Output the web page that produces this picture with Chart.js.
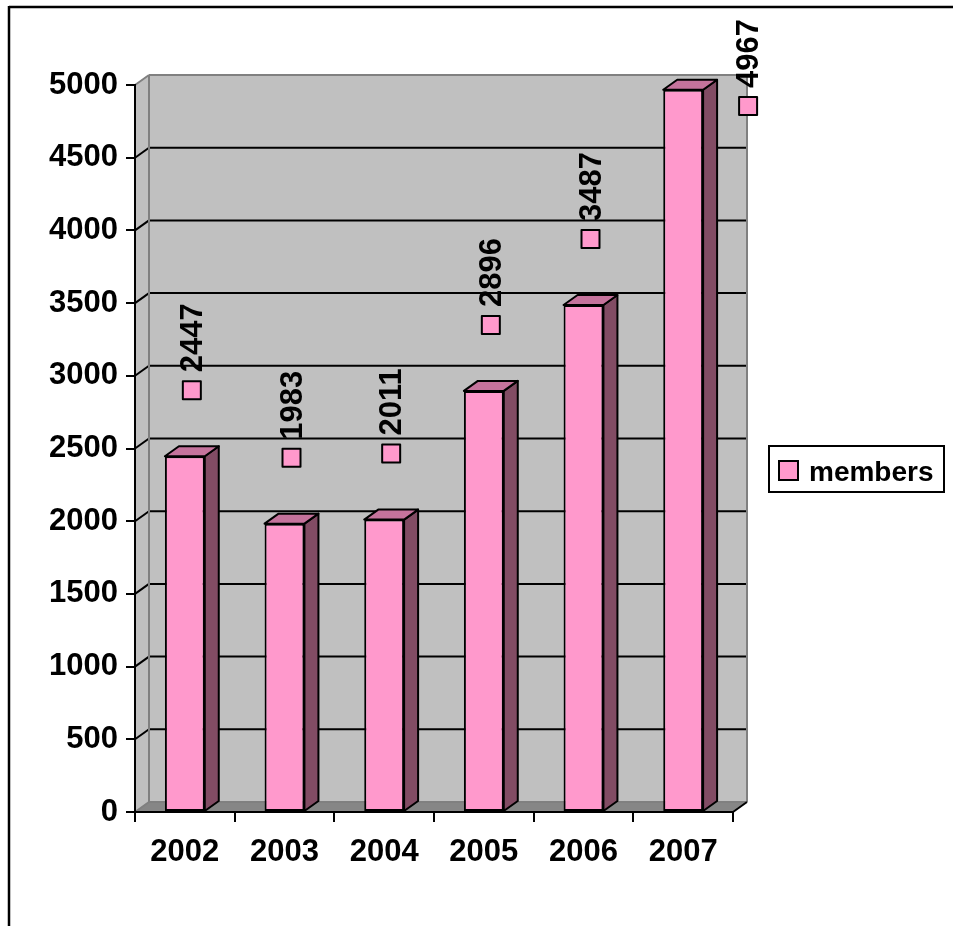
<!DOCTYPE html>
<html>
<head>
<meta charset="utf-8">
<title>members</title>
<script src="https://cdn.jsdelivr.net/npm/chart.js@4/dist/chart.umd.min.js"></script>
<style>
    html, body { margin: 0; padding: 0; background: #fff; }
    #members-chart { display: block; }
</style>
</head>
<body>
<canvas id="members-chart" width="953" height="926"></canvas>
<script>
(function () {
    "use strict";

    // Chart data
    const years = ['2002', '2003', '2004', '2005', '2006', '2007'];
    const members = [2447, 1983, 2011, 2896, 3487, 4967];
    const axisMin = 0;
    const axisMax = 5000;
    const axisStep = 500;
    const seriesName = 'members';

    // Look of the 3D box
    const depthX = 14;
    const depthY = 10;
    const fontFamily = '"Liberation Sans", Arial, sans-serif';
    const colors = {
        wall: '#c0c0c0',
        wallEdge: '#808080',
        floor: '#868686',
        front: '#ff99cc',
        top: '#c5739c',
        side: '#824c64'
    };

    function polygon(ctx, pts, fill, stroke, width) {
        ctx.beginPath();
        ctx.moveTo(pts[0][0], pts[0][1]);
        for (let i = 1; i < pts.length; i++) {
            ctx.lineTo(pts[i][0], pts[i][1]);
        }
        ctx.closePath();
        if (fill) {
            ctx.fillStyle = fill;
            ctx.fill();
        }
        if (stroke) {
            ctx.strokeStyle = stroke;
            ctx.lineWidth = width;
            ctx.stroke();
        }
    }

    function line(ctx, x1, y1, x2, y2, color, width) {
        ctx.beginPath();
        ctx.moveTo(x1, y1);
        ctx.lineTo(x2, y2);
        ctx.strokeStyle = color;
        ctx.lineWidth = width;
        ctx.stroke();
    }

    // Frame, walls, floor and gridlines behind the bars
    const wallsPlugin = {
        id: 'walls3d',
        beforeDraw(chart) {
            const ctx = chart.ctx;
            const a = chart.chartArea;
            const y = chart.scales.y;
            ctx.save();
            ctx.fillStyle = '#fff';
            ctx.fillRect(0, 0, chart.width, chart.height);

            // outer frame
            ctx.lineCap = 'butt';
            line(ctx, 9, 7, chart.width, 7, '#000', 2.5);
            line(ctx, 9, 6, 9, chart.height, '#000', 2.5);

            const top = y.getPixelForValue(axisMax);
            const bottom = y.getPixelForValue(axisMin);

            // side wall
            polygon(ctx, [[a.left, bottom], [a.left + depthX, bottom - depthY],
                [a.left + depthX, top - depthY], [a.left, top]], colors.wall);
            // back wall
            polygon(ctx, [[a.left + depthX, top - depthY], [a.right + depthX, top - depthY],
                [a.right + depthX, bottom - depthY], [a.left + depthX, bottom - depthY]], colors.wall);
            // floor
            polygon(ctx, [[a.left, bottom], [a.right, bottom],
                [a.right + depthX, bottom - depthY], [a.left + depthX, bottom - depthY]], colors.floor);

            // gridlines on back and side walls
            for (let v = axisMin + axisStep; v < axisMax; v += axisStep) {
                const py = y.getPixelForValue(v);
                line(ctx, a.left, py, a.left + depthX, py - depthY, '#000', 2);
                line(ctx, a.left + depthX, py - depthY, a.right + depthX, py - depthY, '#000', 2);
            }

            // wall edges
            ctx.lineJoin = 'miter';
            line(ctx, a.left, top, a.left + depthX, top - depthY, colors.wallEdge, 2);
            line(ctx, a.left + depthX, top - depthY, a.right + depthX, top - depthY, colors.wallEdge, 2);
            line(ctx, a.right + depthX, top - depthY, a.right + depthX, bottom - depthY, colors.wallEdge, 2);
            line(ctx, a.left + depthX, top - depthY, a.left + depthX, bottom - depthY, colors.wallEdge, 2);
            line(ctx, a.left + depthX, bottom - depthY, a.right + depthX, bottom - depthY, colors.wallEdge, 2);
            line(ctx, a.left, bottom, a.left + depthX, bottom - depthY, colors.wallEdge, 2);
            line(ctx, a.right, bottom, a.right + depthX, bottom - depthY, '#000', 2);
            ctx.restore();
        }
    };

    // Side and top faces of each bar, then the rotated value labels
    const barsPlugin = {
        id: 'bars3d',
        afterDatasetsDraw(chart) {
            const ctx = chart.ctx;
            const meta = chart.getDatasetMeta(0);
            const values = chart.data.datasets[0].data;
            ctx.save();
            ctx.lineJoin = 'round';

            meta.data.forEach(function (bar) {
                const xl = bar.x - bar.width / 2;
                const xr = bar.x + bar.width / 2;
                const yt = bar.y;
                const yb = bar.base;
                polygon(ctx, [[xr, yt], [xr + depthX, yt - depthY], [xr + depthX, yb - depthY], [xr, yb]],
                    colors.side, '#000', 2);
                polygon(ctx, [[xl, yt], [xl + depthX, yt - depthY], [xr + depthX, yt - depthY], [xr, yt]],
                    colors.top, '#000', 2);
            });

            // value labels: legend key with the value written upward
            ctx.font = 'bold 31px ' + fontFamily;
            const capH = 31 * 0.716;
            const keySize = 18;
            const gap = 9;
            const minTop = 17;
            meta.data.forEach(function (bar, i) {
                const text = String(values[i]);
                const textLen = ctx.measureText(text).width;
                let cx = bar.x + depthX / 2;
                let keyY = bar.y - depthY / 2 - 61;
                const blockTop = keyY - keySize / 2 - gap - textLen;
                if (blockTop < minTop) {
                    // no room above the plot: move beside the bar
                    keyY = minTop + textLen + gap + keySize / 2 + 2;
                    cx = bar.x + bar.width / 2 + depthX + 31;
                }
                ctx.fillStyle = colors.front;
                ctx.fillRect(cx - keySize / 2, keyY - keySize / 2, keySize, keySize);
                ctx.strokeStyle = '#000';
                ctx.lineWidth = 2;
                ctx.strokeRect(cx - keySize / 2, keyY - keySize / 2, keySize, keySize);

                ctx.save();
                ctx.translate(cx - 1, keyY - keySize / 2 - gap);
                ctx.rotate(-Math.PI / 2);
                ctx.fillStyle = '#000';
                ctx.textAlign = 'left';
                ctx.textBaseline = 'alphabetic';
                ctx.fillText(text, 0, capH / 2);
                ctx.restore();
            });
            ctx.restore();
        },
        afterDraw(chart) {
            // legend box on the right
            const ctx = chart.ctx;
            const a = chart.chartArea;
            const lx = a.right + 36;
            const ly = 446;
            ctx.save();
            ctx.fillStyle = '#fff';
            ctx.fillRect(lx, ly, 175, 46);
            ctx.strokeStyle = '#000';
            ctx.lineWidth = 2;
            ctx.strokeRect(lx, ly, 175, 46);
            ctx.fillStyle = colors.front;
            ctx.fillRect(lx + 10, ly + 15, 19, 19);
            ctx.strokeRect(lx + 10, ly + 15, 19, 19);
            ctx.fillStyle = '#000';
            ctx.font = 'bold 28px ' + fontFamily;
            ctx.textBaseline = 'alphabetic';
            ctx.fillText(seriesName, lx + 40, ly + 35);
            ctx.restore();
        }
    };

    const tickFont = { family: fontFamily, size: 31, weight: 'bold' };

    new Chart(document.getElementById('members-chart'), {
        type: 'bar',
        data: {
            labels: years,
            datasets: [{
                label: seriesName,
                data: members,
                backgroundColor: colors.front,
                borderColor: '#000',
                borderWidth: 2,
                borderSkipped: false,
                categoryPercentage: 1,
                barPercentage: 0.4
            }]
        },
        options: {
            responsive: false,
            animation: false,
            devicePixelRatio: 1,
            layout: {
                padding: { left: 0, top: 85, right: 220, bottom: 0 }
            },
            plugins: {
                legend: { display: false },
                tooltip: { enabled: false }
            },
            scales: {
                x: {
                    grid: {
                        offset: true,
                        drawOnChartArea: false,
                        tickLength: 10,
                        color: '#000',
                        lineWidth: 2
                    },
                    border: { display: true, color: '#000', width: 2 },
                    ticks: { color: '#000', font: tickFont, padding: 12, maxRotation: 0 },
                    afterFit(scale) { scale.height = 114; }
                },
                y: {
                    min: axisMin,
                    max: axisMax,
                    grid: {
                        drawOnChartArea: false,
                        tickLength: 9,
                        color: '#000',
                        lineWidth: 2
                    },
                    border: { display: true, color: '#000', width: 2 },
                    ticks: {
                        color: '#000',
                        font: tickFont,
                        padding: 8,
                        stepSize: axisStep,
                        callback: function (value) { return String(value); }
                    },
                    afterFit(scale) { scale.width = 135; }
                }
            }
        },
        plugins: [wallsPlugin, barsPlugin]
    });
})();
</script>
</body>
</html>
